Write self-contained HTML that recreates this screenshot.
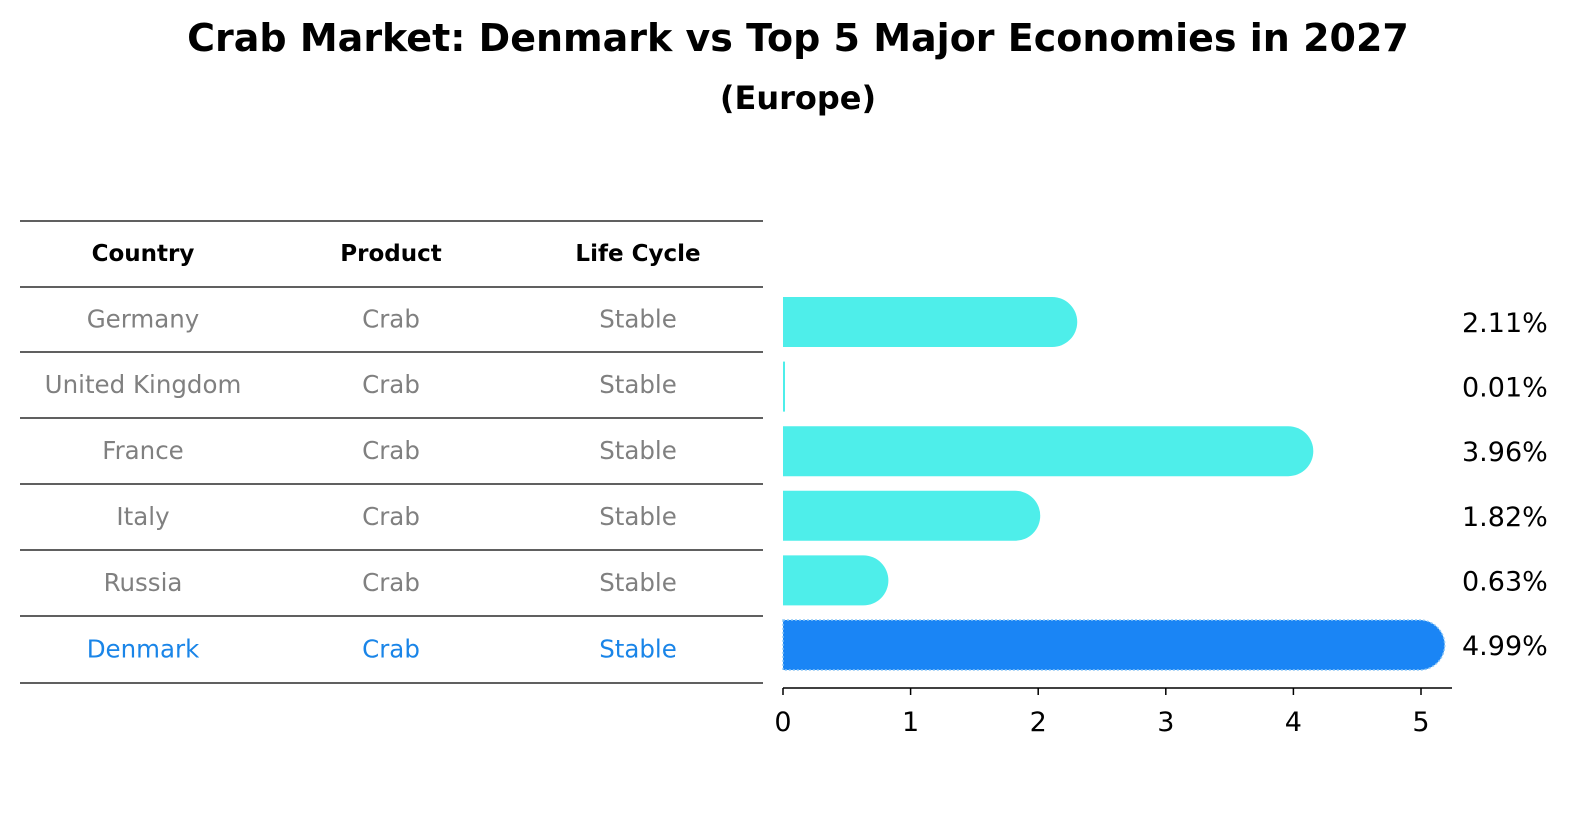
<!DOCTYPE html>
<html><head><meta charset="utf-8"><style>
body{margin:0;background:#fff;font-family:"Liberation Sans","DejaVu Sans",sans-serif}
</style></head><body>
<svg width="1586" height="823" viewBox="0 0 1586 823" xmlns="http://www.w3.org/2000/svg" font-family="DejaVu Sans, Liberation Sans, sans-serif">
<text x="798" y="51" text-anchor="middle" font-size="38" font-weight="bold">Crab Market: Denmark vs Top 5 Major Economies in 2027</text>
<text x="798" y="109" text-anchor="middle" font-size="32" font-weight="bold">(Europe)</text>
<g id="table"></g>
<g id="bars"></g>
</svg>
<script>
const countries=["Germany","United Kingdom","France","Italy","Russia","Denmark"];
const products=["Crab","Crab","Crab","Crab","Crab","Crab"];
const lifeCycles=["Stable","Stable","Stable","Stable","Stable","Stable"];
const values=[2.11,0.01,3.96,1.82,0.63,4.99];
const ticks=[0,1,2,3,4,5];
const NS="http://www.w3.org/2000/svg";
function mk(t,a,p){const e=document.createElementNS(NS,t);for(const k in a)e.setAttribute(k,a[k]);p.appendChild(e);return e;}
const tb=document.getElementById('table'),bg=document.getElementById('bars');
const lineYs=[221,287,352,418,484,550,616,683];
lineYs.forEach((y,i)=>{const l=mk('line',{x1:20,x2:763,y1:y,y2:y,stroke:'#000','stroke-width':1.2},tb);

});
const colX=[143,391,638];
["Country","Product","Life Cycle"].forEach((h,i)=>{const t=mk('text',{x:colX[i],y:261,'text-anchor':'middle','font-size':23,'font-weight':'bold'},tb);t.textContent=h;

});
const X=v=>783+v*127.6;
const rowY=i=>322+i*64.6;
countries.forEach((c,i)=>{
 const den=i===countries.length-1;
 const col=den?'#1a85e8':'#808080';
 [c,products[i],lifeCycles[i]].forEach((s,j)=>{const t=mk('text',{x:colX[j],y:(lineYs[i+1]+lineYs[i+2])/2+8,'text-anchor':'middle','font-size':24.5,fill:col},tb);t.textContent=s;
 
 });
 const cy=rowY(i),h=50,r=25,x1=X(values[i]);
 const fill=den?'#1a85f5':'#4eeeea';
 let d;
 if(values[i]<0.05){d=`M783 ${cy-h/2}h2v${h}h-2z`;}
 else d=`M783 ${cy-h/2}H${x1}A${r} ${r} 0 0 1 ${x1} ${cy+h/2}H783Z`;
 const b=mk('path',{d:d,fill:fill},bg);
 if(den){b.setAttribute('stroke','#8ec8f5');b.setAttribute('stroke-dasharray','2 2');b.setAttribute('stroke-width','1.5');}
 
 
 const t=mk('text',{x:1462,y:cy+10,'font-size':27},bg);t.textContent=values[i].toFixed(2)+'%';
 
 
});
const ax=mk('line',{x1:783,x2:1452,y1:688,y2:688,stroke:'#000','stroke-width':1.5},bg);


ticks.forEach(v=>{const l=mk('line',{x1:X(v),x2:X(v),y1:688,y2:695,stroke:'#000','stroke-width':1.5},bg);


const t=mk('text',{x:X(v),y:731,'text-anchor':'middle','font-size':27},bg);t.textContent=v;

});
</script>
</body></html>
